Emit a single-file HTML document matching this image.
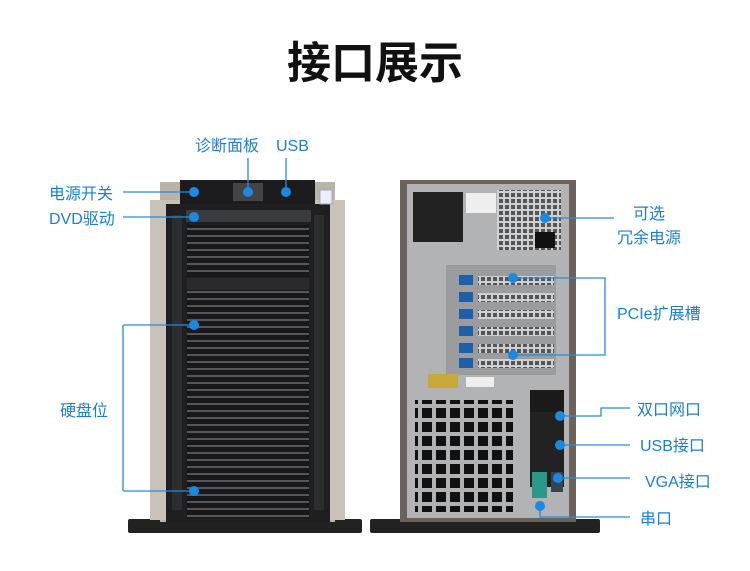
<!DOCTYPE html>
<html><head><meta charset="utf-8"><style>
body{margin:0;background:#fff;width:750px;height:566px;overflow:hidden}
svg text{font-family:"Liberation Sans","Noto Sans CJK SC",sans-serif}
</style></head><body>
<svg width="750" height="566" viewBox="0 0 750 566" xmlns="http://www.w3.org/2000/svg">
<defs>
<pattern id="gr" width="7" height="7" patternUnits="userSpaceOnUse"><rect width="7" height="7" fill="#18181a"/><rect y="4" width="7" height="2" fill="#55575b"/></pattern>
<pattern id="mesh" width="6" height="6" patternUnits="userSpaceOnUse"><rect width="6" height="6" fill="#cfd0d2"/><rect x="1" y="1" width="4" height="4" fill="#555"/></pattern>
<pattern id="fan" width="14" height="14" patternUnits="userSpaceOnUse"><rect width="14" height="14" fill="#b0b2b4"/><rect x="2" y="2" width="10" height="10" fill="#111"/></pattern>
</defs>
<text x="375" y="78" text-anchor="middle" font-size="44" font-weight="bold" fill="#111">接口展示</text>

<!-- front server -->
<rect x="128" y="519" width="234" height="14" rx="2" fill="#222"/>
<rect x="160" y="182" width="175" height="340" fill="#b9b3a8"/>
<rect x="150" y="200" width="195" height="320" fill="#c8c2b8"/>
<rect x="166" y="204" width="164" height="319" fill="#1f1f21"/>
<rect x="172" y="215" width="10" height="295" fill="#2c2d30"/>
<rect x="314" y="215" width="10" height="295" fill="#2c2d30"/>
<rect x="180" y="180" width="135" height="24" fill="#1c1c1e"/>
<rect x="233" y="183" width="30" height="18" fill="#444"/>
<rect x="186" y="210" width="125" height="12" fill="#3a3b3e"/>
<rect x="187" y="225" width="122" height="52" fill="url(#gr)"/>
<rect x="187" y="278" width="122" height="12" fill="#2a2a2c"/>
<rect x="187" y="290" width="122" height="228" fill="url(#gr)"/>
<rect x="320" y="190" width="12" height="14" fill="#eef" stroke="#9ab" />

<!-- back server -->
<rect x="370" y="519" width="230" height="14" rx="2" fill="#222"/>
<rect x="400" y="180" width="176" height="342" fill="#6b635b"/>
<rect x="407" y="184" width="162" height="334" fill="#b1b3b5"/>
<rect x="413" y="192" width="50" height="50" fill="#222"/>
<rect x="466" y="193" width="30" height="20" fill="#eee"/>
<rect x="497" y="190" width="64" height="60" fill="url(#mesh)"/>
<rect x="535" y="232" width="20" height="16" fill="#111"/>
<rect x="446" y="265" width="110" height="110" fill="#9a9c9e"/>
<g fill="#1d5fa8"><rect x="459" y="275" width="14" height="10"/><rect x="459" y="292" width="14" height="10"/><rect x="459" y="309" width="14" height="10"/><rect x="459" y="326" width="14" height="10"/><rect x="459" y="343" width="14" height="10"/><rect x="459" y="358" width="14" height="10"/></g>
<g fill="url(#mesh)"><rect x="478" y="276" width="76" height="9"/><rect x="478" y="293" width="76" height="9"/><rect x="478" y="310" width="76" height="9"/><rect x="478" y="327" width="76" height="9"/><rect x="478" y="344" width="76" height="9"/><rect x="478" y="359" width="76" height="9"/></g>
<rect x="428" y="374" width="30" height="14" fill="#c9a83a"/>
<rect x="466" y="377" width="28" height="10" fill="#eee"/>
<rect x="415" y="400" width="98" height="112" fill="url(#fan)"/>
<rect x="530" y="390" width="34" height="22" fill="#1a1a1a"/>
<rect x="530" y="412" width="34" height="75" fill="#222"/>
<rect x="532" y="472" width="15" height="26" fill="#2a9a88"/>
<rect x="551" y="472" width="12" height="20" fill="#345"/>

<!-- connectors -->
<g stroke="#2a8ad8" stroke-width="1.3" fill="none">
<path d="M123 192H194M123 217H194M248 158V192M286 158V192M123 325V491M123 325H194M123 491H194"/>
<path d="M545 218H614M513 278H605V355H513M560 416H601V408H630M560 445H630M558 478H630M540 506V517H630"/>
</g>
<g fill="#1a8ae0">
<circle cx="194" cy="192" r="5"/><circle cx="248" cy="192" r="5"/><circle cx="286" cy="192" r="5"/><circle cx="194" cy="217" r="5"/><circle cx="194" cy="325" r="5"/><circle cx="194" cy="491" r="5"/>
<circle cx="545" cy="218" r="5"/><circle cx="513" cy="278" r="5"/><circle cx="513" cy="355" r="5"/><circle cx="560" cy="416" r="5"/><circle cx="560" cy="445" r="5"/><circle cx="558" cy="478" r="5"/><circle cx="540" cy="506" r="5"/>
</g>
<g fill="#1a7fd4" font-size="16">
<text x="49" y="199">电源开关</text>
<text x="49" y="224">DVD驱动</text>
<text x="195" y="151">诊断面板</text>
<text x="276" y="151">USB</text>
<text x="60" y="416">硬盘位</text>
<text x="633" y="219">可选</text>
<text x="617" y="243">冗余电源</text>
<text x="617" y="319">PCIe扩展槽</text>
<text x="637" y="415">双口网口</text>
<text x="640" y="451">USB接口</text>
<text x="645" y="487">VGA接口</text>
<text x="640" y="524">串口</text>
</g>
</svg>
</body></html>
